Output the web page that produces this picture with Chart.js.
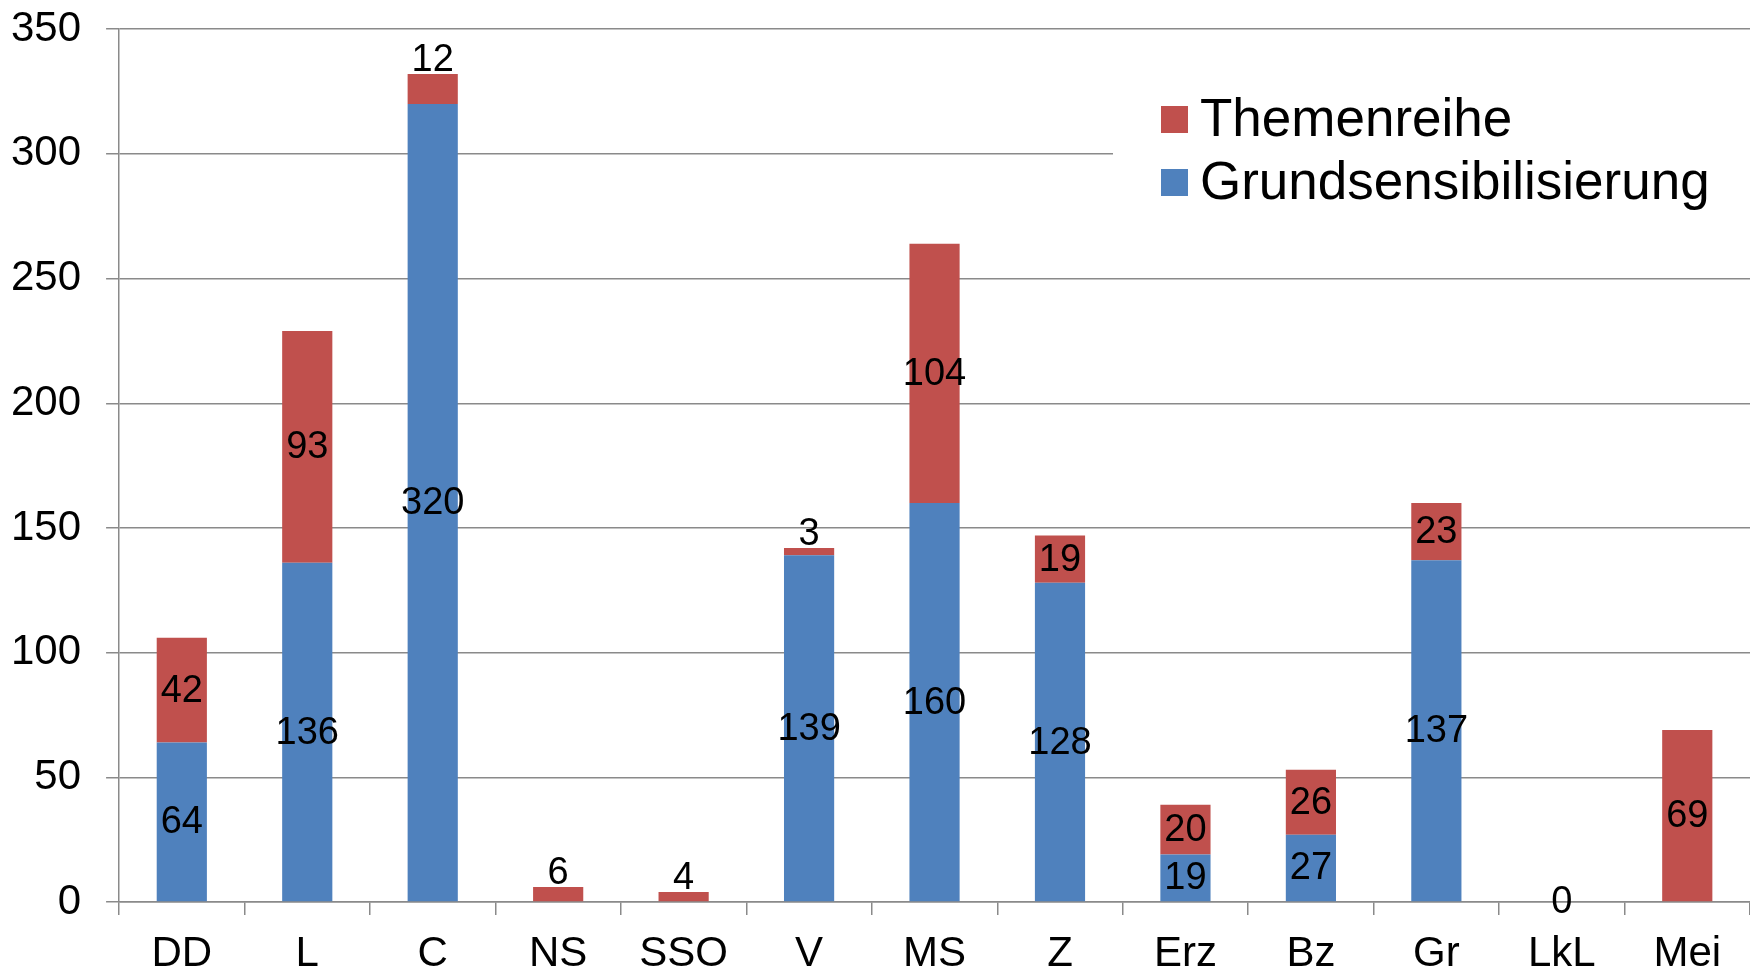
<!DOCTYPE html>
<html>
<head>
<meta charset="utf-8">
<script src="https://cdn.jsdelivr.net/npm/chart.js@4.4.1/dist/chart.umd.min.js"></script>
<style>
    html, body { margin: 0; padding: 0; background: #fff; overflow: hidden; }
    canvas { display: block; }
</style>
</head>
<body>
<canvas id="chart" width="1750" height="970"></canvas>
<script>
// Kategorien und Werte
const categories = ['DD', 'L', 'C', 'NS', 'SSO', 'V', 'MS', 'Z', 'Erz', 'Bz', 'Gr', 'LkL', 'Mei'];
const grundValues = [64, 136, 320, null, null, 139, 160, 128, 19, 27, 137, 0, null];
const themenValues = [42, 93, 12, 6, 4, 3, 104, 19, 20, 26, 23, null, 69];
const yTicks = [0, 50, 100, 150, 200, 250, 300, 350];

const FONT = '"Liberation Sans", Arial, sans-serif';
const GRID = '#8a8a8a';

// Beschriftungen der Balken
const valueLabels = {
    id: 'valueLabels',
    afterDatasetsDraw(chart) {
        const ctx = chart.ctx;
        ctx.save();
        ctx.fillStyle = '#000';
        ctx.font = '38px ' + FONT;
        ctx.textAlign = 'center';
        chart.data.datasets.forEach((ds, di) => {
            const meta = chart.getDatasetMeta(di);
            meta.data.forEach((bar, i) => {
                const v = ds.data[i];
                if (v === null || v === undefined) return;
                if (v > 0 && v <= 12) {
                    // kleine Werte oberhalb des Balkens
                    ctx.textBaseline = 'alphabetic';
                    ctx.fillText(String(v), bar.x, bar.y - 3);
                } else {
                    ctx.textBaseline = 'middle';
                    ctx.fillText(String(v), bar.x, (bar.y + bar.base) / 2 + 1);
                }
            });
        });
        ctx.restore();
    }
};

// Legende im Diagramm, mit weißem Hintergrund
const boxLegend = {
    id: 'boxLegend',
    afterDraw(chart) {
        const ctx = chart.ctx;
        const area = chart.chartArea;
        ctx.save();
        ctx.fillStyle = '#fff';
        ctx.fillRect(1113, 62, area.right - 1113, 185);
        const order = [1, 0];
        const baselines = [136, 199];
        order.forEach((di, k) => {
            const ds = chart.data.datasets[di];
            const base = baselines[k];
            ctx.fillStyle = ds.backgroundColor;
            ctx.fillRect(1161, base - 30, 27, 27);
            ctx.fillStyle = '#000';
            ctx.font = '53px ' + FONT;
            ctx.textAlign = 'left';
            ctx.textBaseline = 'alphabetic';
            ctx.fillText(ds.label, 1200, base);
        });
        ctx.restore();
    }
};

new Chart(document.getElementById('chart').getContext('2d'), {
    type: 'bar',
    data: {
        labels: categories,
        datasets: [
            {
                label: 'Grundsensibilisierung',
                data: grundValues,
                backgroundColor: '#4F81BD',
                barPercentage: 0.4,
                categoryPercentage: 1.0
            },
            {
                label: 'Themenreihe',
                data: themenValues,
                backgroundColor: '#C0504D',
                barPercentage: 0.4,
                categoryPercentage: 1.0
            }
        ]
    },
    options: {
        responsive: false,
        animation: false,
        layout: { padding: { top: 28, left: -14, right: 0, bottom: -23 } },
        plugins: {
            legend: { display: false },
            tooltip: { enabled: false }
        },
        scales: {
            x: {
                stacked: true,
                grid: {
                    offset: true,
                    drawOnChartArea: false,
                    drawTicks: true,
                    tickLength: 13,
                    color: GRID,
                    lineWidth: 1.5
                },
                border: { display: true, color: GRID, width: 1.5 },
                ticks: {
                    color: '#000',
                    font: { family: FONT, size: 42, lineHeight: 1 },
                    padding: 18,
                    maxRotation: 0,
                    autoSkip: false
                }
            },
            y: {
                stacked: true,
                min: 0,
                max: 350,
                afterBuildTicks(scale) {
                    scale.ticks = yTicks.map(v => ({ value: v }));
                },
                grid: {
                    color: GRID,
                    lineWidth: 1.5,
                    tickLength: 13
                },
                border: { display: true, color: GRID, width: 1.5 },
                ticks: {
                    color: '#000',
                    font: { family: FONT, size: 42, lineHeight: 0.2 },
                    padding: 25
                }
            }
        }
    },
    plugins: [valueLabels, boxLegend]
});
</script>
</body>
</html>
